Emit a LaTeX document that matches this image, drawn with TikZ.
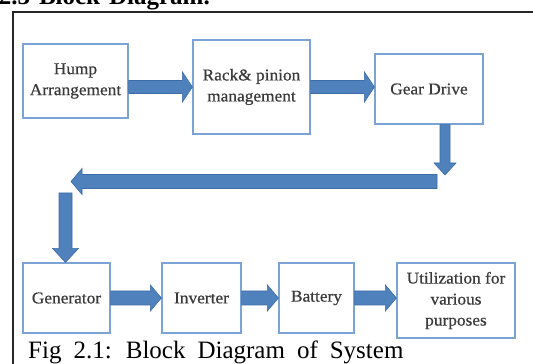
\documentclass[tikz,border=0pt]{standalone}
\usepackage{fontspec}
\setmainfont{Liberation Serif}
\newfontfamily\boxfont[FakeStretch=1.05,FakeBold=0.6]{Liberation Serif}
\usetikzlibrary{calc}
\definecolor{boxline}{HTML}{7BA3D6}
\definecolor{arrfill}{HTML}{4F81BD}
\definecolor{arrline}{HTML}{3E6CA8}
\definecolor{txt}{HTML}{3A3A3A}
\tikzset{
  blk/.style={draw=boxline, line width=1.2pt, fill=white, inner sep=0pt,
    align=center, text=txt, font=\boxfont\fontsize{16.5}{21}\selectfont},
  arr/.style={fill=arrfill, draw=arrline, line width=0.6pt, line join=miter}
}
% #1 start, #2 end, #3 half shaft, #4 half head, #5 head length
\newcommand\blockarrow[5]{%
  \coordinate (bhA) at (#1);
  \coordinate (bhB) at (#2);
  \coordinate (bhH) at ($(bhB)!#5!(bhA)$);
  \draw[arr] ($(bhA)!#3!90:(bhB)$) -- ($(bhH)!#3!90:(bhB)$) -- ($(bhH)!#4!90:(bhB)$)
    -- (bhB) -- ($(bhH)!#4!-90:(bhB)$) -- ($(bhH)!#3!-90:(bhB)$) -- ($(bhA)!#3!-90:(bhB)$) -- cycle;
}
\begin{document}
\begin{tikzpicture}[x=1pt,y=1pt]
\useasboundingbox (0,0) rectangle (533,364);
\clip (0,0) rectangle (533,364);
\fill[white] (0,0) rectangle (533,364);
% heading (cropped) and frame
\node[anchor=base east, inner sep=0pt, font=\fontsize{25}{30}\selectfont\bfseries] (head) at (210,359)
  {\spaceskip=9pt\relax 2.3 Block Diagram.};
\draw[line width=1.4pt, black!85] (13,-5) -- (13,352) -- (545,352);
% boxes
\node[blk, minimum width=105pt, minimum height=74pt] (hump) at (75.5,283) {Hump\\Arrangement};
\node[blk, minimum width=117pt, minimum height=94pt] (rack) at (251.5,277) {Rack\& pinion\\management};
\node[blk, minimum width=108pt, minimum height=70pt] (gear) at (429,275) {Gear Drive};
\node[blk, minimum width=87pt, minimum height=70pt] (gen) at (66.5,66) {Generator};
\node[blk, minimum width=79pt, minimum height=70pt] (inv) at (201.5,66) {Inverter};
\node[blk, minimum width=75pt, minimum height=70pt] (bat) at (316.5,66) {Battery};
\node[blk, minimum width=118pt, minimum height=75pt] (util) at (456,63.5) {Utilization for\\various\\purposes};
% connector coordinates
\coordinate (gtip) at (445,189);
\coordinate (lr) at (437,182.5);
\coordinate (ll) at (71,182.5);
\coordinate (gtop) at (65.5,171);
% block arrows
\blockarrow{hump.east |- rack.west}{rack.west}{6.5pt}{15pt}{10pt}
\blockarrow{rack.east}{gear.west |- rack.east}{6.5pt}{15pt}{10pt}
\blockarrow{gear.south -| gtip}{gtip}{5pt}{11pt}{12pt}
\blockarrow{lr}{ll}{7pt}{13pt}{11pt}
\blockarrow{gtop}{gtop |- gen.north}{6.5pt}{13pt}{14pt}
\blockarrow{gen.east}{inv.west}{7pt}{13pt}{11pt}
\blockarrow{inv.east}{bat.west}{7pt}{13pt}{11pt}
\blockarrow{bat.east}{util.west |- bat.east}{7pt}{13pt}{11pt}
% caption
\node[anchor=base west, inner sep=0pt, font=\fontsize{25}{30}\selectfont] (cap) at (28,5)
  {\spaceskip=12pt\relax Fig 2.1: Block Diagram of System};
\end{tikzpicture}
\end{document}
